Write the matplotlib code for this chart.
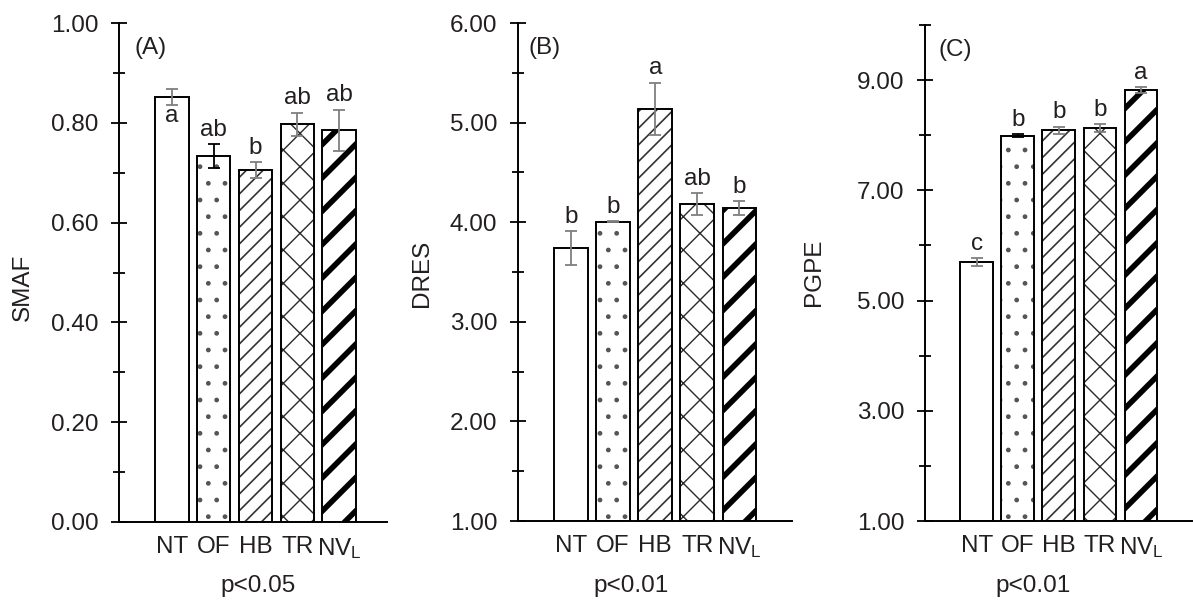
import numpy as np
import matplotlib
matplotlib.use("Agg")
import matplotlib.pyplot as plt

plt.rcParams['font.family'] = ['Liberation Sans', 'DejaVu Sans']
plt.rcParams['mathtext.default'] = 'regular'
plt.rcParams['text.color'] = '#231f20'

# --- data ---
treatments = ['NT', 'OF', 'HB', 'TR', r'NV$_{L}$']

smaf = [0.852, 0.733, 0.705, 0.797, 0.785]
smaf_err = [0.016, 0.024, 0.016, 0.023, 0.041]
smaf_letters = ['a', 'ab', 'b', 'ab', 'ab']

dres = [3.74, 4.005, 5.14, 4.18, 4.14]
dres_err = [0.17, 0.006, 0.26, 0.11, 0.07]
dres_letters = ['b', 'b', 'a', 'ab', 'b']

pgpe = [5.70, 7.99, 8.09, 8.13, 8.82]
pgpe_err = [0.07, 0.03, 0.065, 0.07, 0.055]
pgpe_letters = ['c', 'b', 'b', 'b', 'a']

p_labels = ['p<0.05', 'p<0.01', 'p<0.01']
panel_tags = ['(A)', '(B)', '(C)']
y_names = ['SMAF', 'DRES', 'PGPE']

# bar styling (per treatment)
hatches = ['', '.', '//', 'x', '/']
hatch_colors = ['white', '#555555', '#333333', '#2a2a2a', 'black']
hatch_lws = [0.5, 1.0, 1.2, 1.0, 4.0]

FS = 17.5
W, H = 1193, 601
fig = plt.figure(figsize=(W / 100, H / 100), dpi=100)

def px_rect(x0, x1, ytop, ybot):
    return [x0 / W, (H - ybot) / H, (x1 - x0) / W, (ybot - ytop) / H]

panels = [
    dict(vals=smaf, errs=smaf_err, letters=smaf_letters, ylim=(0, 1.0),
         majors=np.arange(0, 1.01, 0.2), minors=np.arange(0, 1.01, 0.1),
         rect=px_rect(119, 387, 23, 522), xlim=(-1.27, 5.15),
         ecolors=['#7f7f7f', 'black', '#7f7f7f', '#7f7f7f', '#7f7f7f'],
         inside=[0], ylab=(23, 287), tag=(134, 48), p=(258, 586)),
    dict(vals=dres, errs=dres_err, letters=dres_letters, ylim=(1.0, 6.0),
         majors=np.arange(1, 6.01, 1.0), minors=np.arange(1, 6.01, 0.5),
         rect=px_rect(518, 792, 23, 521), xlim=(-1.26, 5.25),
         ecolors=['#7f7f7f'] * 5,
         inside=[], ylab=(422, 273), tag=(529, 48), p=(631, 586)),
    dict(vals=pgpe, errs=pgpe_err, letters=pgpe_letters, ylim=(1.0, 10.0),
         majors=np.arange(1, 10, 2.0), minors=np.arange(1, 10.01, 1.0),
         rect=px_rect(925, 1192, 25, 521), xlim=(-1.26, 5.24),
         ecolors=['#7f7f7f', 'black', '#7f7f7f', '#7f7f7f', '#7f7f7f'],
         inside=[], ylab=(814, 272), tag=(938, 50), p=(1033, 586)),
]

x = np.arange(len(treatments))

for k, pan in enumerate(panels):
    ax = fig.add_axes(pan['rect'])
    base = pan['ylim'][0]
    for i in range(len(x)):
        h = pan['vals'][i] - base
        # hatch layer
        if hatches[i]:
            with plt.rc_context({'hatch.linewidth': hatch_lws[i]}):
                bars = ax.bar(x[i], h, bottom=base, width=0.8, color='white',
                              edgecolor=hatch_colors[i], hatch=hatches[i], linewidth=0)
            for b in bars:
                if hasattr(b, 'set_hatch_linewidth'):
                    b.set_hatch_linewidth(hatch_lws[i])
        # outline layer
        ax.bar(x[i], h, bottom=base, width=0.8, color='white' if not hatches[i] else 'none',
               edgecolor='black', linewidth=1.4, zorder=2)
        ax.errorbar(x[i], pan['vals'][i], yerr=pan['errs'][i], fmt='none',
                    ecolor=pan['ecolors'][i], elinewidth=1.3, capsize=4.5,
                    capthick=1.3, zorder=3)
        if i in pan['inside']:
            ax.annotate(pan['letters'][i], (x[i], pan['vals'][i] - pan['errs'][i]),
                        xytext=(0, 0), textcoords='offset points',
                        ha='center', va='top', fontsize=FS)
        else:
            ax.annotate(pan['letters'][i], (x[i], pan['vals'][i] + pan['errs'][i]),
                        xytext=(0, 2.5), textcoords='offset points',
                        ha='center', va='bottom', fontsize=FS)

    ax.set_xlim(*pan['xlim'])
    ax.set_ylim(*pan['ylim'])
    ax.set_xticks(x)
    ax.set_xticklabels(treatments)
    ax.set_yticks(pan['majors'])
    ax.set_yticks(pan['minors'], minor=True)
    ax.set_yticklabels([f"{v:.2f}" for v in pan['majors']])

    for s in ['top', 'right']:
        ax.spines[s].set_visible(False)
    for s in ['left', 'bottom']:
        ax.spines[s].set_linewidth(1.4)
        ax.spines[s].set_color('black')

    ax.tick_params(axis='y', which='major', direction='inout', length=11,
                   width=1.3, pad=9.5, labelsize=FS, colors='black',
                   labelcolor='#231f20')
    ax.tick_params(axis='y', which='minor', direction='inout', length=8,
                   width=1.3, colors='black')
    ax.tick_params(axis='x', length=0, pad=10, labelsize=FS,
                   labelcolor='#231f20')

    fig.text(pan['ylab'][0] / W, 1 - pan['ylab'][1] / H, y_names[k],
             rotation=90, ha='center', va='center', fontsize=FS)
    fig.text(pan['tag'][0] / W, 1 - pan['tag'][1] / H, panel_tags[k],
             ha='left', va='center', fontsize=FS)
    fig.text(pan['p'][0] / W, 1 - pan['p'][1] / H, p_labels[k],
             ha='center', va='center', fontsize=FS)

fig.savefig("out.png", dpi=100)
